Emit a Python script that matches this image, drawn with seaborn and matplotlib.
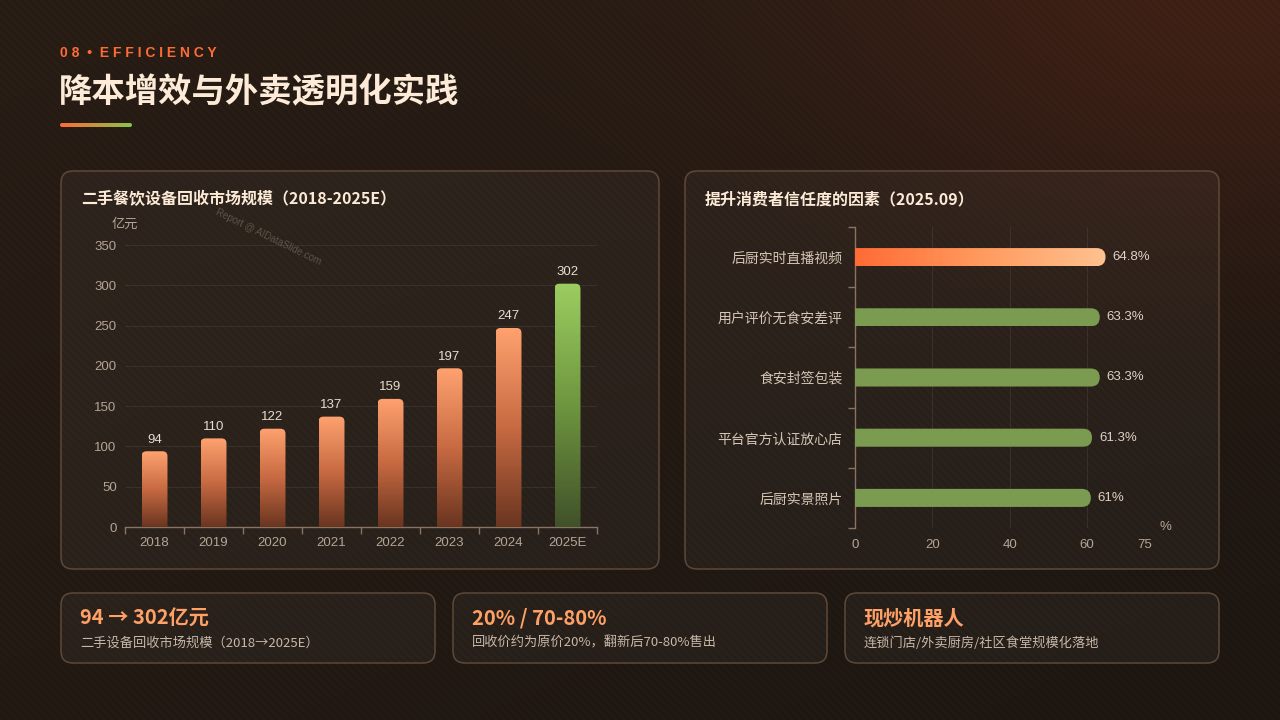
import matplotlib.pyplot as plt
import numpy as np
import seaborn as sns
from matplotlib.colors import LinearSegmentedColormap
from matplotlib.patches import FancyBboxPatch
from matplotlib.transforms import IdentityTransform

# data
years = ["2018", "2019", "2020", "2021", "2022", "2023", "2024", "2025E"]
market_size = [94, 110, 122, 137, 159, 197, 247, 302]
size_ticks = [0, 50, 100, 150, 200, 250, 300, 350]

factors = ["后厨实时直播视频", "用户评价无食安差评", "食安封签包装", "平台官方认证放心店", "后厨实景照片"]
factor_share = [64.8, 63.3, 63.3, 61.3, 61]
share_ticks = [0, 20, 40, 60, 75]

highlight_titles = ["94 → 302亿元", "20% / 70-80%", "现炒机器人"]
highlight_notes = ["二手设备回收市场规模（2018→2025E）",
                   "回收价约为原价20%，翻新后70-80%售出",
                   "连锁门店/外卖厨房/社区食堂规模化落地"]

CJK = ["Noto Sans CJK SC", "DejaVu Sans"]
NUM = ["Liberation Sans", "Noto Sans CJK SC", "DejaVu Sans"]
CREAM = "#FDEBD8"
TICK = "#B5A595"
AXIS = "#8A7360"

sns.set_style("white")
plt.rcParams["font.family"] = NUM

fig = plt.figure(figsize=(12.8, 7.2), dpi=100)

# background in pixel coordinates
bg = fig.add_axes([0, 0, 1, 1], zorder=-10)
bg.set_xlim(0, 1280)
bg.set_ylim(720, 0)
bg.axis("off")

yy, xx = np.mgrid[0:720, 0:1280]
top_left = np.array([0x27, 0x1C, 0x14]) / 255
bot_right = np.array([0x1C, 0x15, 0x10]) / 255
t = np.clip((xx / 1280 * 0.45 + yy / 720 * 0.55), 0, 1)[..., None]
img = top_left * (1 - t) + bot_right * t
glow_col = np.array([0x3E, 0x1F, 0x14]) / 255
glow = np.exp(-(((xx - 1230) / 430) ** 2 + ((yy + 30) / 260) ** 2))[..., None]
img = img * (1 - glow) + glow_col * glow
stripes = (((xx - yy) % 8) < 4).astype(float) * 0.01
img = np.clip(img + stripes[..., None], 0, 1)
bg.imshow(img, extent=(0, 1280, 720, 0), aspect="auto", zorder=0)


def card(x, y, w, h):
    bg.add_patch(FancyBboxPatch((x, y), w, h, boxstyle="round,pad=0,rounding_size=12",
                                fc=(1, 1, 1, 0.035), ec="#5E4837", lw=1.1, zorder=1))


card(61, 171, 598, 398)
card(685, 171, 534, 398)
for cx in (61, 453, 845):
    card(cx, 593, 374, 70)

# header
bg.text(60, 53, "0 8  •  E F F I C I E N C Y", color="#FF6B35", fontsize=10,
        fontweight="bold", va="center", ha="left", family=NUM)
bg.text(59, 93, "降本增效与外卖透明化实践", color=CREAM, fontsize=24,
        fontweight="heavy", va="center", ha="left", family=CJK)
line_cmap = LinearSegmentedColormap.from_list("line", ["#FF6B35", "#8BC34A"])
underline = bg.imshow(np.linspace(0, 1, 128).reshape(1, -1), cmap=line_cmap,
                      extent=(60, 132, 127, 123), aspect="auto", zorder=2)
clip = FancyBboxPatch((60, 123), 72, 4, boxstyle="round,pad=0,rounding_size=2",
                      transform=bg.transData)
underline.set_clip_path(clip)

bg.text(81, 199, "二手餐饮设备回收市场规模（2018-2025E）", color=CREAM, fontsize=11.5,
        fontweight="bold", va="center", family=CJK)
bg.text(705, 199, "提升消费者信任度的因素（2025.09）", color=CREAM, fontsize=11.5,
        fontweight="bold", va="center", family=CJK)
bg.text(112, 224, "亿元", color=TICK, fontsize=9.5, va="center", family=CJK)
bg.text(1160, 527, "%", color=TICK, fontsize=9.5, va="center", family=NUM)
bg.text(268, 237, "Report @ AIDataSlide.com", color="#A08E7E", alpha=0.45, fontsize=7,
        rotation=-26, ha="center", va="center", family=NUM)

for i, cx in enumerate((61, 453, 845)):
    bg.text(cx + 19, 618, highlight_titles[i], color="#FFA066", fontsize=14.5,
            fontweight="bold", va="center", family=CJK)
    bg.text(cx + 19, 643, highlight_notes[i], color="#C8B8A8", fontsize=9.5,
            va="center", family=CJK)


def gradient_into(ax, patch, cmap, vertical, radius):
    x0, y0 = patch.get_x(), patch.get_y()
    w, h = patch.get_width(), patch.get_height()
    (dx0, dy0) = ax.transData.transform((x0, y0))
    (dx1, dy1) = ax.transData.transform((x0 + w, y0 + h))
    left, right = min(dx0, dx1), max(dx0, dx1)
    bot, top = min(dy0, dy1), max(dy0, dy1)
    if vertical:
        arr = np.linspace(0, 1, 256).reshape(-1, 1)
        box = FancyBboxPatch((left, bot - radius), right - left, top - bot + radius,
                             boxstyle=f"round,pad=0,rounding_size={radius}",
                             transform=IdentityTransform())
        im = ax.imshow(arr, cmap=cmap, origin="lower", aspect="auto",
                       extent=(x0, x0 + w, 0, y0 + h), zorder=3)
    else:
        arr = np.linspace(0, 1, 256).reshape(1, -1)
        r = (top - bot) / 2
        box = FancyBboxPatch((left - r, bot), right - left + r, top - bot,
                             boxstyle=f"round,pad=0,rounding_size={r}",
                             transform=IdentityTransform())
        im = ax.imshow(arr, cmap=cmap, aspect="auto",
                       extent=(0, x0 + w, y0, y0 + h), zorder=3)
    im.set_clip_path(box)
    patch.set_visible(False)


# left chart: market size
ax1 = fig.add_axes([125 / 1280, 1 - 527 / 720, 472 / 1280, 282 / 720])
ax1.patch.set_alpha(0)
sns.barplot(x=years, y=market_size, ax=ax1, width=0.44, color="#E8875A",
            saturation=1, errorbar=None)
ax1.set_xlim(-0.5, len(years) - 0.5)
ax1.set_ylim(0, 350)
ax1.set_yticks(size_ticks)
ax1.set_xticks(np.arange(-0.5, len(years), 1), minor=True)
ax1.grid(axis="y", color="white", alpha=0.07, lw=0.8)
ax1.set_axisbelow(True)
for s in ("left", "top", "right"):
    ax1.spines[s].set_visible(False)
ax1.spines["bottom"].set_color(AXIS)
ax1.spines["bottom"].set_linewidth(1)
ax1.tick_params(axis="x", which="major", bottom=True, length=0, pad=7, colors=TICK,
                labelsize=9.5)
ax1.tick_params(axis="x", which="minor", bottom=True, length=5, color=AXIS, width=1)
ax1.tick_params(axis="y", length=0, pad=6, colors=TICK, labelsize=9.5)
ax1.set_xlabel("")
ax1.set_ylabel("")
ax1.bar_label(ax1.containers[0], padding=4, color="#E8DCCF", fontsize=9.5)

orange_v = LinearSegmentedColormap.from_list("ov", ["#6A3520", "#C86A42", "#FFA26F"])
green_v = LinearSegmentedColormap.from_list("gv", ["#41512A", "#6E963F", "#9CCD60"])
for i, p in enumerate(ax1.patches):
    gradient_into(ax1, p, green_v if years[i].endswith("E") else orange_v, True, 5)
ax1.set_xlim(-0.5, len(years) - 0.5)
ax1.set_ylim(0, 350)

# right chart: trust factors
ax2 = fig.add_axes([855 / 1280, 1 - 528 / 720, 290 / 1280, 301 / 720])
ax2.patch.set_alpha(0)
sns.barplot(x=factor_share, y=factors, orient="h", ax=ax2, width=0.3, color="#7B9B50",
            saturation=1, errorbar=None)
ax2.set_xlim(0, 75)
ax2.set_ylim(len(factors) - 0.5, -0.5)
ax2.set_xticks(share_ticks)
ax2.set_yticks(np.arange(-0.5, len(factors), 1), minor=True)
ax2.grid(axis="x", color="white", alpha=0.07, lw=0.8)
ax2.set_axisbelow(True)
for s in ("bottom", "top", "right"):
    ax2.spines[s].set_visible(False)
ax2.spines["left"].set_color(AXIS)
ax2.spines["left"].set_linewidth(1)
ax2.tick_params(axis="y", which="major", left=True, length=0, pad=9, colors="#D5C5B5",
                labelsize=10)
ax2.tick_params(axis="y", which="minor", left=True, length=5, color=AXIS, width=1)
ax2.tick_params(axis="x", length=0, pad=8, colors=TICK, labelsize=9.5)
for lab in ax2.get_yticklabels():
    lab.set_fontfamily(CJK)
ax2.set_xlabel("")
ax2.set_ylabel("")
ax2.bar_label(ax2.containers[0], labels=[f"{v:g}%" for v in factor_share], padding=5,
              color="#E0D2C4", fontsize=9.5)

orange_h = LinearSegmentedColormap.from_list("oh", ["#FF6B35", "#FF9A5E", "#FFC28F"])
green_h = LinearSegmentedColormap.from_list("gh", ["#7B9B50", "#7B9B50"])
for i, p in enumerate(ax2.patches):
    gradient_into(ax2, p, orange_h if i == 0 else green_h, False, 0)
ax2.set_xlim(0, 75)
ax2.set_ylim(len(factors) - 0.5, -0.5)

fig.savefig("out.png", dpi=100)
